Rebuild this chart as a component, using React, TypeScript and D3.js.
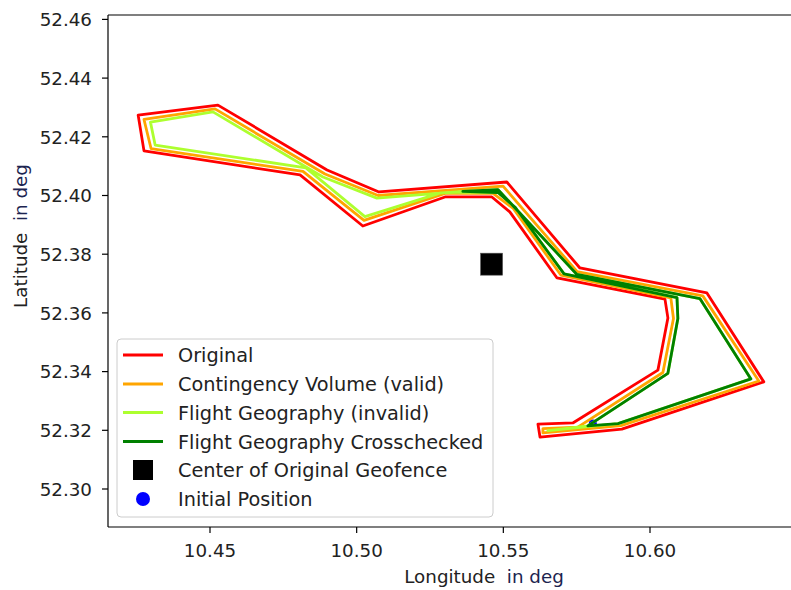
import React from "react";
import * as d3 from "d3";

// chart size / layout
let sizing = { width: 791, height: 590, left: 108, top: 15, bottom: 527, right: 800 };

const xTicks = [10.45, 10.5, 10.55, 10.6];
const yTicks = [52.3, 52.32, 52.34, 52.36, 52.38, 52.4, 52.42, 52.44, 52.46];

// geofence outlines (lon / lat in deg)
const originalLon = [10.4255, 10.4527, 10.4899, 10.5076, 10.5512, 10.5761, 10.6194, 10.6388, 10.5904, 10.5625, 10.5618, 10.5737, 10.6027, 10.6061, 10.6051, 10.5683, 10.5522, 10.5461, 10.5301, 10.5021, 10.4807, 10.4275];
const originalLat = [52.4274, 52.4308, 52.4087, 52.4012, 52.4046, 52.3753, 52.3668, 52.3365, 52.3204, 52.3177, 52.3221, 52.3225, 52.3405, 52.3583, 52.3647, 52.3719, 52.3944, 52.3995, 52.3995, 52.3896, 52.407, 52.4152];

const contingencyLon = [10.4275, 10.4517, 10.4892, 10.5073, 10.5499, 10.5751, 10.618, 10.6371, 10.5901, 10.5635, 10.5635, 10.5754, 10.6044, 10.608, 10.6071, 10.5696, 10.5534, 10.5465, 10.5301, 10.5025, 10.4817, 10.4299];
const contingencyLat = [52.4259, 52.4295, 52.4073, 52.4, 52.4032, 52.3741, 52.3658, 52.3368, 52.3216, 52.3191, 52.3206, 52.3211, 52.3397, 52.3581, 52.3651, 52.3729, 52.3956, 52.4007, 52.4007, 52.3915, 52.4082, 52.416];

const fgInvalidLon = [10.4297, 10.451, 10.4885, 10.5069, 10.5362, 10.5482, 10.5751, 10.617, 10.6344, 10.5891, 10.5652, 10.5788, 10.6061, 10.6095, 10.6092, 10.5707, 10.5541, 10.5482, 10.5362, 10.5287, 10.5028, 10.4827, 10.4313];
const fgInvalidLat = [52.425, 52.4285, 52.4063, 52.3991, 52.4014, 52.402, 52.3731, 52.3649, 52.3375, 52.3223, 52.3199, 52.3215, 52.3394, 52.3581, 52.3652, 52.3733, 52.3959, 52.401, 52.4012, 52.4009, 52.3928, 52.4094, 52.4172];

const fgCrossLon = [10.5362, 10.5482, 10.5751, 10.617, 10.6344, 10.5891, 10.5788, 10.6061, 10.6095, 10.6092, 10.5707, 10.5541, 10.5482];
const fgCrossLat = [52.4014, 52.402, 52.3731, 52.3649, 52.3375, 52.3223, 52.3215, 52.3394, 52.3581, 52.3652, 52.3733, 52.3959, 52.401];

const centerLon = [10.546];
const centerLat = [52.3766];
const initialLon = [10.5805];
const initialLat = [52.3223];

const legendLabels = [
  "Original",
  "Contingency Volume (valid)",
  "Flight Geography (invalid)",
  "Flight Geography Crosschecked",
  "Center of Original Geofence",
  "Initial Position"
];
const lineColors = ["#ff0000", "#ffa500", "#adff2f", "#008000"];

let font = "'DejaVu Sans', sans-serif";

function App() {
  const xScale = d3.scaleLinear().domain([10.45, 10.6]).range([210, 650]);
  const yScale = d3.scaleLinear().domain([52.3, 52.46]).range([489, 19.4]);

  const outline = (lons: number[], lats: number[]) => {
    const pts = lons.map((d, i) => [d, lats[i]] as [number, number]);
    return (
      d3
        .line<[number, number]>()
        .x((d) => xScale(d[0]))
        .y((d) => yScale(d[1]))(pts) + "Z"
    );
  };

  const shapes = [
    [originalLon, originalLat],
    [contingencyLon, contingencyLat],
    [fgInvalidLon, fgInvalidLat],
    [fgCrossLon, fgCrossLat]
  ];

  let legendY = [355, 384, 412.5, 441.5, 470, 499];

  return (
    <svg
      width={sizing.width}
      height={sizing.height}
      style={{ position: "absolute", left: 0, top: 0, background: "white" }}
    >
      <defs>
        <clipPath id="plotArea">
          <rect x={sizing.left} y={sizing.top} width={sizing.right - sizing.left} height={sizing.bottom - sizing.top} />
        </clipPath>
      </defs>

      <g clipPath="url(#plotArea)">
        {initialLon.map((d, i) => (
          <circle key={`ip${i}`} cx={xScale(d)} cy={yScale(initialLat[i])} r={4} fill="#0000ff" />
        ))}
        {shapes.map((s, i) => (
          <path
            key={`shape${i}`}
            d={outline(s[0], s[1])}
            fill="none"
            stroke={lineColors[i]}
            strokeWidth={2.8}
            strokeLinejoin="round"
          />
        ))}
        {centerLon.map((d, i) => (
          <rect
            key={`c${i}`}
            x={xScale(d) - 11}
            y={yScale(centerLat[i]) - 11}
            width={22}
            height={22}
            fill="#000"
            stroke="#555"
            strokeWidth={0.6}
          />
        ))}
      </g>

      {/* spines */}
      <line x1={sizing.left} x2={sizing.left} y1={sizing.top} y2={sizing.bottom} stroke="#000" strokeWidth={1.2} />
      <line x1={sizing.left} x2={sizing.right} y1={sizing.bottom} y2={sizing.bottom} stroke="#000" strokeWidth={1.2} />
      <line x1={sizing.left} x2={sizing.right} y1={sizing.top} y2={sizing.top} stroke="#000" strokeWidth={1.2} />

      {/* x ticks */}
      {xTicks.map((t) => (
        <g key={`xt${t}`}>
          <line x1={xScale(t)} x2={xScale(t)} y1={sizing.bottom} y2={sizing.bottom + 6} stroke="#000" strokeWidth={1.2} />
          <text x={xScale(t)} y={557} fontFamily={font} fontSize={18.3} fill="#222" textAnchor="middle">
            {t.toFixed(2)}
          </text>
        </g>
      ))}

      {/* y ticks */}
      {yTicks.map((t) => (
        <g key={`yt${t}`}>
          <line x1={sizing.left - 6} x2={sizing.left} y1={yScale(t)} y2={yScale(t)} stroke="#000" strokeWidth={1.2} />
          <text x={92} y={yScale(t) + 6.7} fontFamily={font} fontSize={18.3} fill="#222" textAnchor="end">
            {t.toFixed(2)}
          </text>
        </g>
      ))}

      {/* axis labels */}
      <text x={484} y={583} fontFamily={font} fontSize={18.3} fill="#222" textAnchor="middle" style={{ whiteSpace: "pre" }}>
        {"Longitude  "}
        <tspan fill="#1c2450">in deg</tspan>
      </text>
      <text
        transform="translate(27,236) rotate(-90)"
        fontFamily={font}
        fontSize={18.3}
        fill="#222"
        textAnchor="middle"
        style={{ whiteSpace: "pre" }}
      >
        {"Latitude  "}
        <tspan fill="#1c2450">in deg</tspan>
      </text>

      {/* legend */}
      <rect x={117} y={339} width={376} height={178} rx={4} fill="white" fillOpacity={0.8} stroke="#cccccc" strokeWidth={1} />
      {legendLabels.map((label, i) => (
        <g key={`leg${i}`}>
          {i < 4 && (
            <line x1={123} x2={163} y1={legendY[i]} y2={legendY[i]} stroke={lineColors[i]} strokeWidth={2.8} />
          )}
          {i === 4 && <rect x={133} y={legendY[i] - 10} width={20} height={20} fill="#000" />}
          {i === 5 && <circle cx={143} cy={legendY[i]} r={7} fill="#0000ff" />}
          <text x={178} y={legendY[i] + 7} fontFamily={font} fontSize={19.3} fill="#222">
            {label}
          </text>
        </g>
      ))}
    </svg>
  );
}

export default App;
